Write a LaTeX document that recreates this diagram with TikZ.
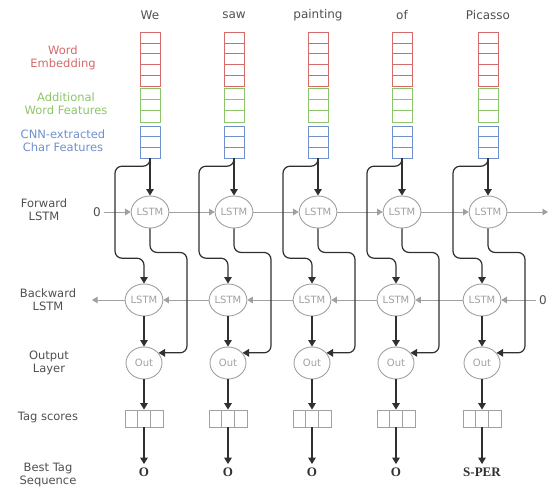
\documentclass[tikz,border=0pt]{standalone}
\usepackage{fontspec}
\setmainfont{DejaVu Sans}
\newfontfamily\tagfont{Liberation Serif}
\usetikzlibrary{arrows.meta,shapes.geometric}

\definecolor{embred}{HTML}{D46A6A}
\definecolor{featgreen}{HTML}{8CC56A}
\definecolor{charblue}{HTML}{7090CC}
\definecolor{lstmgray}{HTML}{A0A0A0}
\definecolor{linkdark}{HTML}{303030}
\definecolor{labelgray}{HTML}{505050}

\tikzset{
  rowlabel/.style={align=center, text=labelgray, font=\fontsize{11.5}{13}\selectfont},
  wordtext/.style={text=labelgray, font=\fontsize{12}{14}\selectfont},
  embbox/.style={draw=embred, minimum width=20pt, minimum height=54pt, inner sep=0pt},
  featbox/.style={draw=featgreen, minimum width=20pt, minimum height=34pt, inner sep=0pt},
  charbox/.style={draw=charblue, minimum width=20pt, minimum height=32pt, inner sep=0pt},
  lstm/.style={ellipse, draw=lstmgray, line width=0.9pt, text=lstmgray, minimum width=36pt,
    minimum height=32pt, inner sep=0pt, font=\fontsize{10}{11}\selectfont},
  tagbox/.style={draw=lstmgray, line width=0.8pt, minimum width=38pt, minimum height=17pt, inner sep=0pt},
  besttag/.style={font=\tagfont\bfseries\fontsize{13}{15}\selectfont, text=linkdark},
  link/.style={draw=linkdark, line width=1.2pt, -{Triangle[width=7.5pt,length=6.5pt]}},
  chain/.style={draw=lstmgray, line width=0.9pt, -{Triangle[width=6.5pt,length=5.5pt]}}
}

\begin{document}
\begin{tikzpicture}[x=1pt, y=-1pt]
  \useasboundingbox (0,0) rectangle (553,489);

  % Row labels
  \node[rowlabel, text=embred] (lemb) at (63,58) {Word\\Embedding};
  \node[rowlabel, text=featgreen] (lfeat) at (66,104) {Additional\\Word Features};
  \node[rowlabel, text=charblue] (lchar) at (63,141) {CNN-extracted\\Char Features};
  \node[rowlabel] (lfw) at (44,210) {Forward\\LSTM};
  \node[rowlabel] (lbw) at (48,300) {Backward\\LSTM};
  \node[rowlabel] (lout) at (49,363) {Output\\Layer};
  \node[rowlabel] (ltag) at (48,417) {Tag scores};
  \node[rowlabel] (lbest) at (48,475) {Best Tag\\Sequence};

  % Columns: word, feature stacks, LSTMs, output
  \foreach \x/\w/\t [count=\i] in {150/We/O, 234/saw/O, 318/painting/O, 402/of/O, 488/Picasso/S-PER} {
    \node[wordtext] (w\i) at (\x,15) {\w};
    \node[embbox] (emb\i) at (\x,59) {};
    \foreach \k in {1,...,4} \draw[embred] (\x-10,32+10.8*\k) -- ++(20,0);
    \node[featbox] (feat\i) at (\x,105) {};
    \foreach \k in {1,2} \draw[featgreen] (\x-10,88+11.33*\k) -- ++(20,0);
    \node[charbox] (char\i) at (\x,142) {};
    \foreach \k in {1,2} \draw[charblue] (\x-10,126+10.67*\k) -- ++(20,0);
    \node[lstm] (fw\i) at (\x,212) {LSTM};
    \node[lstm] (bw\i) at (\x-6,300) {LSTM};
    \node[lstm] (out\i) at (\x-6,363) {Out};
    \node[tagbox] (tag\i) at (\x-6,418.5) {};
    \foreach \k in {-1,1} \draw[lstmgray, line width=0.8pt] (\x-6+6.33*\k,410) -- ++(0,17);
    \node[besttag] (best\i) at (\x-6,472) {\t};
  }

  % Recurrent chains
  \node[wordtext] (fzero) at (97,212) {0};
  \node[wordtext] (bzero) at (543,300) {0};
  \coordinate (fwend) at (548,212);
  \coordinate (bwend) at (92,300);
  \draw[chain] (fzero) -- (fw1);
  \draw[chain] (bzero) -- (bw5);
  \foreach \a/\b in {1/2, 2/3, 3/4, 4/5} {
    \draw[chain] (fw\a) -- (fw\b);
    \draw[chain] (bw\b) -- (bw\a);
  }
  \draw[chain] (fw5) -- (fwend);
  \draw[chain] (bw1) -- (bwend);

  % Vertical connections
  \foreach \i in {1,...,5} {
    \draw[link] (char\i.south) -- (fw\i.north);
    \draw[link, rounded corners=7pt] (char\i.south) -- ++(0,8) -| ++(-35,92) -| (bw\i.north);
    \draw[link, rounded corners=7pt] (fw\i.south) -- ++(0,24) -- ++(37,0) |- (out\i.35);
    \draw[link] (bw\i.south) -- (out\i.north);
    \draw[link] (out\i.south) -- (tag\i.north);
    \draw[link] (tag\i.south) -- (best\i.north);
  }
\end{tikzpicture}
\end{document}
